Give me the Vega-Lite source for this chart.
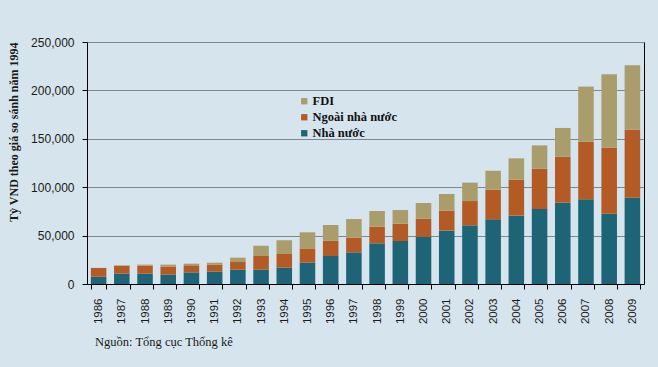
{
  "$schema": "https://vega.github.io/schema/vega-lite/v6.json",
  "width": 557,
  "height": 242,
  "autosize": "none",
  "padding": {"left": 87, "top": 42, "right": 14, "bottom": 83},
  "background": "#d6e4ed",
  "config": {
    "view": {"stroke": null},
    "axis": {"labelFont": "Liberation Sans", "titleFont": "Liberation Serif"}
  },
  "title": {
    "text": "Nguồn: Tổng cục Thống kê",
    "orient": "bottom",
    "anchor": "start",
    "frame": "group",
    "font": "Liberation Serif",
    "fontSize": 12.5,
    "fontWeight": "normal",
    "color": "#1a1a1a",
    "dx": 8,
    "offset": 12
  },
  "data": {
    "values": [
      {"year": "1986", "group": "Nhà nước", "value": 7500},
      {"year": "1986", "group": "Ngoài nhà nước", "value": 9000},
      {"year": "1986", "group": "FDI", "value": 200},
      {"year": "1987", "group": "Nhà nước", "value": 10700},
      {"year": "1987", "group": "Ngoài nhà nước", "value": 8100},
      {"year": "1987", "group": "FDI", "value": 500},
      {"year": "1988", "group": "Nhà nước", "value": 10700},
      {"year": "1988", "group": "Ngoài nhà nước", "value": 8200},
      {"year": "1988", "group": "FDI", "value": 1100},
      {"year": "1989", "group": "Nhà nước", "value": 9600},
      {"year": "1989", "group": "Ngoài nhà nước", "value": 8300},
      {"year": "1989", "group": "FDI", "value": 2100},
      {"year": "1990", "group": "Nhà nước", "value": 12000},
      {"year": "1990", "group": "Ngoài nhà nước", "value": 7300},
      {"year": "1990", "group": "FDI", "value": 1700},
      {"year": "1991", "group": "Nhà nước", "value": 12700},
      {"year": "1991", "group": "Ngoài nhà nước", "value": 7300},
      {"year": "1991", "group": "FDI", "value": 2000},
      {"year": "1992", "group": "Nhà nước", "value": 14800},
      {"year": "1992", "group": "Ngoài nhà nước", "value": 7900},
      {"year": "1992", "group": "FDI", "value": 4500},
      {"year": "1993", "group": "Nhà nước", "value": 14800},
      {"year": "1993", "group": "Ngoài nhà nước", "value": 14100},
      {"year": "1993", "group": "FDI", "value": 10700},
      {"year": "1994", "group": "Nhà nước", "value": 16900},
      {"year": "1994", "group": "Ngoài nhà nước", "value": 14100},
      {"year": "1994", "group": "FDI", "value": 14100},
      {"year": "1995", "group": "Nhà nước", "value": 22000},
      {"year": "1995", "group": "Ngoài nhà nước", "value": 14200},
      {"year": "1995", "group": "FDI", "value": 17200},
      {"year": "1996", "group": "Nhà nước", "value": 29000},
      {"year": "1996", "group": "Ngoài nhà nước", "value": 15600},
      {"year": "1996", "group": "FDI", "value": 16400},
      {"year": "1997", "group": "Nhà nước", "value": 32700},
      {"year": "1997", "group": "Ngoài nhà nước", "value": 15000},
      {"year": "1997", "group": "FDI", "value": 19400},
      {"year": "1998", "group": "Nhà nước", "value": 42000},
      {"year": "1998", "group": "Ngoài nhà nước", "value": 17200},
      {"year": "1998", "group": "FDI", "value": 16200},
      {"year": "1999", "group": "Nhà nước", "value": 44400},
      {"year": "1999", "group": "Ngoài nhà nước", "value": 17900},
      {"year": "1999", "group": "FDI", "value": 14100},
      {"year": "2000", "group": "Nhà nước", "value": 48900},
      {"year": "2000", "group": "Ngoài nhà nước", "value": 18600},
      {"year": "2000", "group": "FDI", "value": 16200},
      {"year": "2001", "group": "Nhà nước", "value": 55100},
      {"year": "2001", "group": "Ngoài nhà nước", "value": 20600},
      {"year": "2001", "group": "FDI", "value": 17300},
      {"year": "2002", "group": "Nhà nước", "value": 60600},
      {"year": "2002", "group": "Ngoài nhà nước", "value": 25100},
      {"year": "2002", "group": "FDI", "value": 19000},
      {"year": "2003", "group": "Nhà nước", "value": 66800},
      {"year": "2003", "group": "Ngoài nhà nước", "value": 30600},
      {"year": "2003", "group": "FDI", "value": 19600},
      {"year": "2004", "group": "Nhà nước", "value": 70600},
      {"year": "2004", "group": "Ngoài nhà nước", "value": 37200},
      {"year": "2004", "group": "FDI", "value": 22000},
      {"year": "2005", "group": "Nhà nước", "value": 77500},
      {"year": "2005", "group": "Ngoài nhà nước", "value": 41600},
      {"year": "2005", "group": "FDI", "value": 24100},
      {"year": "2006", "group": "Nhà nước", "value": 84000},
      {"year": "2006", "group": "Ngoài nhà nước", "value": 47500},
      {"year": "2006", "group": "FDI", "value": 29700},
      {"year": "2007", "group": "Nhà nước", "value": 87500},
      {"year": "2007", "group": "Ngoài nhà nước", "value": 59500},
      {"year": "2007", "group": "FDI", "value": 56900},
      {"year": "2008", "group": "Nhà nước", "value": 72700},
      {"year": "2008", "group": "Ngoài nhà nước", "value": 68100},
      {"year": "2008", "group": "FDI", "value": 75800},
      {"year": "2009", "group": "Nhà nước", "value": 89200},
      {"year": "2009", "group": "Ngoài nhà nước", "value": 70200},
      {"year": "2009", "group": "FDI", "value": 66500}
    ]
  },
  "layer": [
    {
      "mark": {"type": "bar"},
      "encoding": {
        "x": {
          "field": "year",
          "type": "nominal",
          "scale": {"paddingInner": 0.33, "paddingOuter": 0.165},
          "axis": {
            "title": null,
            "labelAngle": -90,
            "labelFont": "Liberation Sans",
            "labelFontSize": 11.5,
            "labelColor": "#1a1a1a",
            "labelPadding": 9,
            "domainColor": "#000000",
            "tickColor": "#000000",
            "tickSize": 5,
            "tickBand": "extent",
            "grid": false
          }
        },
        "y": {
          "field": "value",
          "type": "quantitative",
          "stack": "zero",
          "scale": {"domain": [0, 250000], "nice": false},
          "axis": {
            "title": "Tỷ VND theo giá so sánh năm 1994",
            "titleFont": "Liberation Serif",
            "titleFontSize": 12,
            "titleFontWeight": "bold",
            "titleColor": "#1a1a1a",
            "titleAnchor": "end",
            "titlePadding": 10,
            "values": [0, 50000, 100000, 150000, 200000, 250000],
            "format": ",d",
            "labelFont": "Liberation Sans",
            "labelFontSize": 12,
            "labelColor": "#1a1a1a",
            "labelPadding": 8,
            "domainColor": "#000000",
            "tickColor": "#000000",
            "tickSize": 5,
            "gridColor": "#7b8891",
            "gridWidth": 1
          }
        },
        "color": {
          "field": "group",
          "type": "nominal",
          "scale": {
            "domain": ["FDI", "Ngoài nhà nước", "Nhà nước"],
            "range": ["#aa9d6c", "#b45b25", "#1d6476"]
          },
          "legend": {
            "title": null,
            "orient": "none",
            "legendX": 211,
            "legendY": 53,
            "symbolType": "square",
            "symbolSize": 40,
            "symbolStrokeWidth": 0,
            "symbolOffset": 0,
            "labelOffset": 2,
            "labelFont": "Liberation Serif",
            "labelFontSize": 12.5,
            "labelFontWeight": "bold",
            "labelColor": "#111111",
            "rowPadding": 3
          }
        },
        "order": {"field": "group", "sort": "descending"}
      }
    },
    {
      "mark": {"type": "rule", "opacity": 0},
      "encoding": {
        "y": {
          "datum": 0,
          "type": "quantitative",
          "axis": {
            "orient": "right",
            "title": null,
            "labels": false,
            "ticks": false,
            "grid": false,
            "domainColor": "#000000"
          }
        }
      }
    }
  ],
  "resolve": {"axis": {"y": "independent"}}
}
